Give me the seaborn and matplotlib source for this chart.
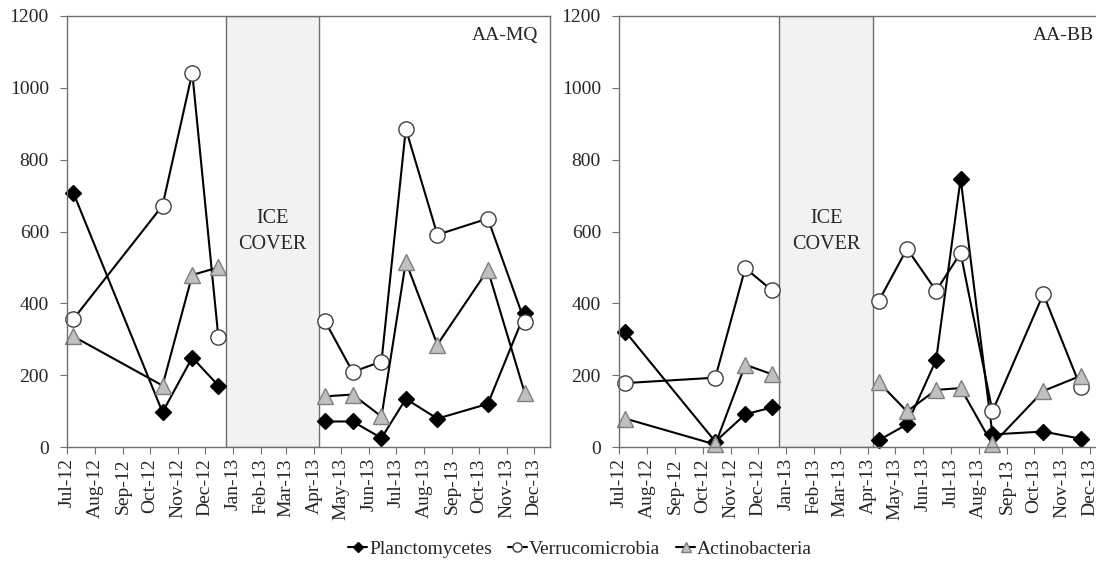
import matplotlib
matplotlib.use("Agg")
import matplotlib.pyplot as plt
import matplotlib.dates as mdates
from matplotlib.lines import Line2D
import seaborn as sns
import pandas as pd

# ---------------- data ----------------
dates = ['2012-07-08', '2012-10-15', '2012-11-17', '2012-12-16', '2013-04-13', '2013-05-14',
         '2013-06-15', '2013-07-12', '2013-08-16', '2013-10-11', '2013-11-21']
segment = [0, 0, 0, 0, 1, 1, 1, 1, 1, 1, 1]

mq_planc = [708, 97, 249, 171, 71, 71, 25, 134, 79, 120, 372]
mq_verru = [356, 672, 1042, 305, 352, 209, 238, 886, 591, 636, 349]
mq_actino = [308, 171, 479, 500, 141, 146, 85, 516, 285, 493, 150]

bb_planc = [321, 15, 91, 110, 19, 63, 242, 747, 35, 43, 23]
bb_verru = [178, 193, 498, 437, 407, 552, 435, 540, 99, 426, 167]
bb_actino = [79, 7, 229, 203, 180, 99, 159, 164, 7, 156, 198]

series_names = ['Planctomycetes', 'Verrucomicrobia', 'Actinobacteria']
panels = ['AA-MQ', 'AA-BB']
ice_start, ice_end = '2012-12-24', '2013-04-07'
x_min, x_max = '2012-07-01', '2013-12-19'
y_ticks = [0, 200, 400, 600, 800, 1000, 1200]

# ---------------- style ----------------
sns.set_style('ticks')
plt.rcParams['font.family'] = ['Liberation Serif', 'DejaVu Serif']
plt.rcParams['font.size'] = 14

styles = {
    'Planctomycetes': dict(marker='D', markersize=8, markerfacecolor='black',
                           markeredgecolor='black', markeredgewidth=1),
    'Verrucomicrobia': dict(marker='o', markersize=11, markerfacecolor='white',
                            markeredgecolor='#404040', markeredgewidth=1),
    'Actinobacteria': dict(marker='^', markersize=12, markerfacecolor='#c0c0c0',
                           markeredgecolor='#7f7f7f', markeredgewidth=1),
}

def make_df(p, v, a):
    return pd.DataFrame({'date': pd.to_datetime(dates), 'segment': segment,
                         'Planctomycetes': p, 'Verrucomicrobia': v, 'Actinobacteria': a})

frames = [make_df(mq_planc, mq_verru, mq_actino), make_df(bb_planc, bb_verru, bb_actino)]

fig = plt.figure(figsize=(10.96, 5.65), dpi=100)
W, H = 1096, 565
bottom = 1 - 447 / H
height = 431 / H
ax1 = fig.add_axes([67 / W, bottom, 483 / W, height])
ax2 = fig.add_axes([619 / W, bottom, 487 / W, height])

for ax, df, name in zip([ax1, ax2], frames, panels):
    ax.axvspan(pd.Timestamp(ice_start), pd.Timestamp(ice_end), facecolor='#f2f2f2',
               edgecolor='#6f6f6f', linewidth=1, zorder=0)
    for s in series_names:
        for seg in sorted(set(segment)):
            sub = df[df['segment'] == seg]
            sns.lineplot(data=sub, x='date', y=s, ax=ax, color='black', linewidth=1.5,
                         estimator=None, sort=False, legend=False, clip_on=False, **styles[s])
    ax.set_xlim(pd.Timestamp(x_min), pd.Timestamp(x_max))
    ax.set_ylim(0, 1200)
    ax.set_yticks(y_ticks)
    ax.xaxis.set_major_locator(mdates.MonthLocator())
    ax.xaxis.set_major_formatter(mdates.DateFormatter('%b-%y'))
    ax.tick_params(axis='x', labelrotation=90, labelsize=14, direction='out', length=5,
                   color='#6f6f6f', pad=3)
    ax.tick_params(axis='y', labelsize=14, direction='out', length=5, color='#6f6f6f', pad=8)
    ax.set_xlabel('')
    ax.set_ylabel('')
    for sp in ax.spines.values():
        sp.set_visible(True)
        sp.set_color('#6f6f6f')
        sp.set_linewidth(1)
    mid = pd.Timestamp(ice_start) + (pd.Timestamp(ice_end) - pd.Timestamp(ice_start)) / 2
    ax.text(mid, 600, 'ICE\nCOVER', ha='center', va='center', fontsize=14.5, linespacing=1.45)
    ax.annotate(name, xy=(1, 1), xycoords='axes fraction', xytext=(-8.5, -8),
                textcoords='offset points', ha='right', va='top', fontsize=14)

handles = [Line2D([0], [0], color='black', linewidth=1.5,
                  **{**styles[s], 'markersize': styles[s]['markersize'] * 0.6})
           for s in series_names]
fig.legend(handles, series_names, loc='center', bbox_to_anchor=(580 / W, 1 - 549 / H),
           ncol=3, frameon=False, fontsize=14, handlelength=1.0, handletextpad=0.1,
           columnspacing=0.8)

fig.savefig('out.png', dpi=100)
